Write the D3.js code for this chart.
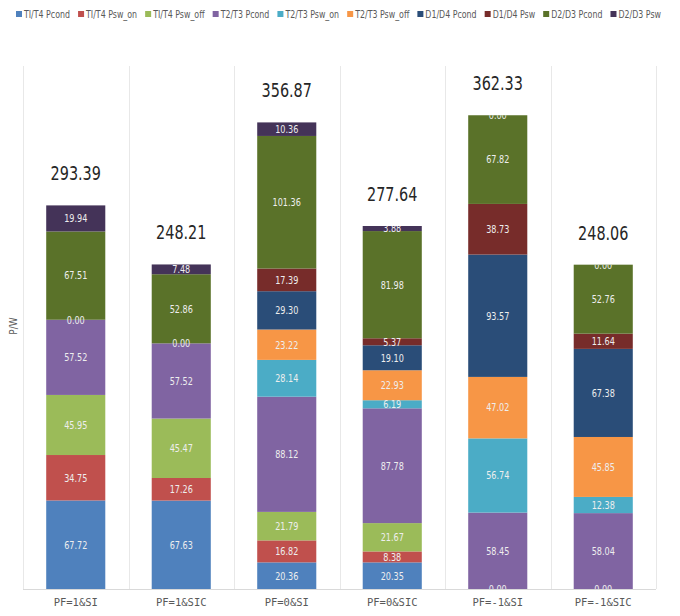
<!DOCTYPE html>
<html>
<head>
<meta charset="utf-8">
<script src="https://cdnjs.cloudflare.com/ajax/libs/d3/7.8.5/d3.min.js"></script>
<style>
  body { margin: 0; background: #fff; }
  svg { display: block; font-family: 'Liberation Sans Narrow', 'DejaVu Sans', sans-serif; font-stretch: condensed; }
</style>
</head>
<body>
<svg class="chart-svg" width="680" height="616"></svg>
<script>
// categories along x
const categories = ['PF=1&SI', 'PF=1&SIC', 'PF=0&SI', 'PF=0&SIC', 'PF=-1&SI', 'PF=-1&SIC']

// series, bottom to top of each stack
const seriesNames = [
  'TI/T4 Pcond', 'TI/T4 Psw_on', 'TI/T4 Psw_off', 'T2/T3 Pcond', 'T2/T3 Psw_on',
  'T2/T3 Psw_off', 'D1/D4 Pcond', 'D1/D4 Psw', 'D2/D3 Pcond', 'D2/D3 Psw'
]
const seriesColors = [
  '#4f81bd', '#c0504d', '#9bbb59', '#8064a2', '#4bacc6',
  '#f79646', '#2a4d78', '#772c2a', '#5a7229', '#443358'
]

// values per series (null = empty cell, no label)
const t14Pcond = [67.72, 67.63, 20.36, 20.35, 0, 0]
const t14PswOn = [34.75, 17.26, 16.82, 8.38, null, null]
const t14PswOff = [45.95, 45.47, 21.79, 21.67, null, null]
const t23Pcond = [57.52, 57.52, 88.12, 87.78, 58.45, 58.04]
const t23PswOn = [null, null, 28.14, 6.19, 56.74, 12.38]
const t23PswOff = [null, null, 23.22, 22.93, 47.02, 45.85]
const d14Pcond = [0, 0, 29.30, 19.10, 93.57, 67.38]
const d14Psw = [null, null, 17.39, 5.37, 38.73, 11.64]
const d23Pcond = [67.51, 52.86, 101.36, 81.98, 67.82, 52.76]
const d23Psw = [19.94, 7.48, 10.36, 3.88, 0, 0]

const totals = [293.39, 248.21, 356.87, 277.64, 362.33, 248.06]

const seriesValues = [t14Pcond, t14PswOn, t14PswOff, t23Pcond, t23PswOn,
  t23PswOff, d14Pcond, d14Psw, d23Pcond, d23Psw]

const rows = categories.map(function (c, i) {
  const row = { category: c, total: totals[i] }
  seriesNames.forEach(function (s, j) { row[s] = seriesValues[j][i] })
  return row
})

const svg = d3.select('.chart-svg')
const margin = { top: 66, right: 24, bottom: 27, left: 23 }
const width = 680 - margin.left - margin.right
const height = 616 - margin.top - margin.bottom

const x = d3.scaleBand()
  .domain(categories)
  .range([0, width])

const barPad = 0.22
const barW = x.bandwidth() * (1 - 2 * barPad)

const y = d3.scaleLinear()
  .domain([0, 400])
  .range([height, 0])

const g = svg.append('g')
  .attr('transform', `translate(${margin.left}, ${margin.top})`)

// squeeze a text element horizontally around its anchor point
function squeeze (sel, sx) {
  sel.each(function () {
    const t = d3.select(this)
    const tx = +t.attr('x') || 0
    t.attr('transform', `translate(${tx}, 0) scale(${sx}, 1) translate(${-tx}, 0)`)
  })
}

// category separators
g.append('g')
  .selectAll('line')
  .data(d3.range(categories.length + 1))
  .enter()
  .append('line')
  .attr('x1', function (d) { return Math.round(d * x.step()) + 0.5 })
  .attr('x2', function (d) { return Math.round(d * x.step()) + 0.5 })
  .attr('y1', 0)
  .attr('y2', height)
  .attr('stroke', '#e8e8e8')
  .attr('stroke-width', 1)

// baseline
g.append('line')
  .attr('x1', 0)
  .attr('x2', width)
  .attr('y1', height + 0.5)
  .attr('y2', height + 0.5)
  .attr('stroke', '#d9d9d9')

const stack = d3.stack()
  .keys(seriesNames)
  .value(function (d, key) { return d[key] == null ? 0 : d[key] })
const stacked = stack(rows)

function barX (cat) {
  return x(cat) + x.bandwidth() * barPad
}

// clip labels to each whole stack
const defs = svg.append('defs')
rows.forEach(function (r, i) {
  const top = y(d3.sum(seriesNames, function (s) { return r[s] || 0 }))
  defs.append('clipPath')
    .attr('id', 'clip-' + i)
    .append('rect')
    .attr('x', barX(r.category) - 10)
    .attr('y', top)
    .attr('width', barW + 20)
    .attr('height', height - top)
})

const layers = g.append('g')
  .selectAll('g')
  .data(stacked)
  .enter()
  .append('g')
  .attr('fill', function (d, i) { return seriesColors[i] })

layers.selectAll('rect')
  .data(function (d) { return d })
  .enter()
  .append('rect')
  .attr('x', function (d) { return barX(d.data.category) })
  .attr('y', function (d) { return y(d[1]) })
  .attr('width', barW)
  .attr('height', function (d) { return y(d[0]) - y(d[1]) })

// segment labels
const labelLayer = g.append('g')
stacked.forEach(function (layer) {
  layer.forEach(function (d, i) {
    const v = d.data[layer.key]
    if (v == null) return
    labelLayer.append('g')
      .attr('clip-path', 'url(#clip-' + i + ')')
      .append('text')
      .attr('class', 'seg-label')
      .attr('x', barX(d.data.category) + barW / 2)
      .attr('y', (y(d[0]) + y(d[1])) / 2)
      .attr('dy', '.35em')
      .attr('text-anchor', 'middle')
      .attr('font-size', 11)
      .attr('fill', '#eeeeee')
      .text(v.toFixed(2))
  })
})
squeeze(labelLayer.selectAll('.seg-label'), 0.82)

// totals above the stacks
const totalLabels = g.append('g')
  .selectAll('text')
  .data(rows)
  .enter()
  .append('text')
  .attr('x', function (d) { return barX(d.category) + barW / 2 })
  .attr('y', function (d) { return y(d.total) - 25 })
  .attr('text-anchor', 'middle')
  .attr('font-size', 20)
  .attr('fill', '#262626')
  .text(function (d) { return d.total.toFixed(2) })
squeeze(totalLabels, 0.8)

// x axis labels
const xAxis = g.append('g')
  .attr('transform', `translate(0, ${height})`)
  .call(d3.axisBottom(x).tickSize(0).tickPadding(10))
xAxis.select('.domain').remove()
xAxis.selectAll('text')
  .attr('font-size', 10.5)
  .attr('font-family', "'DejaVu Sans Mono', monospace")
  .attr('fill', '#595959')

// y axis title
svg.append('text')
  .attr('transform', 'translate(17, 326) rotate(-90)')
  .attr('text-anchor', 'middle')
  .attr('font-size', 10)
  .attr('fill', '#595959')
  .text('P/W')

// legend, spread across the top
const legendLeft = 16
const legendRight = 661
const legendGap = 8
const legend = svg.append('g')
  .attr('class', 'legend-container')
const items = legend.selectAll('.legend')
  .data(seriesNames)
  .enter()
  .append('g')
  .attr('class', 'legend')
items.append('rect')
  .attr('x', 0)
  .attr('y', 11)
  .attr('width', 6)
  .attr('height', 6)
  .style('fill', function (d, i) { return seriesColors[i] })
items.append('text')
  .attr('x', 8)
  .attr('y', 14)
  .attr('dy', '.35em')
  .attr('font-size', 11)
  .attr('fill', '#595959')
  .text(function (d) { return d })

const textW = []
items.each(function () {
  textW.push(d3.select(this).select('text').node().getComputedTextLength())
})
const room = legendRight - legendLeft - legendGap * (textW.length - 1) - 8 * textW.length
const sx = Math.min(1, room / d3.sum(textW))
items.selectAll('text').attr('transform', `translate(8, 0) scale(${sx}, 1) translate(-8, 0)`)
let pos = legendLeft
items.attr('transform', function (d, i) {
  const t = 'translate(' + pos + ', 0)'
  pos += 8 + textW[i] * sx + legendGap
  return t
})
</script>
</body>
</html>
